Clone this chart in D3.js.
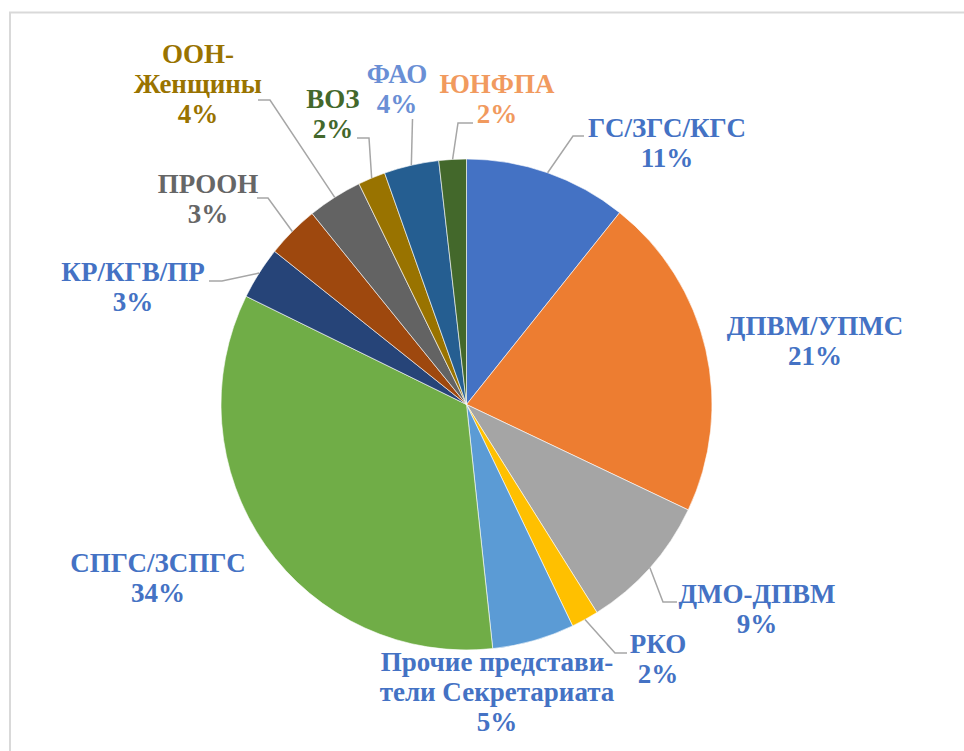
<!DOCTYPE html>
<html lang="ru">
<head>
<meta charset="utf-8">
<script src="https://cdn.jsdelivr.net/npm/d3@7"></script>
</head>
<body style="margin:0;padding:0;background:#ffffff;">
<svg id="chart" width="964" height="751" style="display:block;"></svg>
<script>
// ---- data ----
const categories = ["ГС/ЗГС/КГС", "ДПВМ/УПМС", "ДМО-ДПВМ", "РКО", "Прочие представители Секретариата",
  "СПГС/ЗСПГС", "КР/КГВ/ПР", "ПРООН", "ООН-Женщины", "ВОЗ", "ФАО", "ЮНФПА"];
const values = [10.7, 21.3, 9.0, 1.8, 5.4, 33.9, 3.45, 3.45, 3.6, 1.8, 3.6, 1.8];
const labelLines = [["ГС/ЗГС/КГС"], ["ДПВМ/УПМС"], ["ДМО-ДПВМ"], ["РКО"], ["Прочие представи-", "тели Секретариата"],
  ["СПГС/ЗСПГС"], ["КР/КГВ/ПР"], ["ПРООН"], ["ООН-", "Женщины"], ["ВОЗ"], ["ФАО"], ["ЮНФПА"]];

// ---- styles ----
const sliceColors = ["#4472C4", "#ED7D31", "#A5A5A5", "#FFC000", "#5B9BD5", "#70AD47",
  "#264478", "#9E480E", "#636363", "#997300", "#255E91", "#43682B"];
const labelColors = ["#4472C4", "#4472C4", "#4472C4", "#4472C4", "#4472C4", "#4472C4",
  "#4472C4", "#666666", "#997300", "#43682B", "#6A8FD5", "#F19A5E"];

// ---- layout (label anchors: center x, first baseline y; leader elbow and end) ----
const labelLayout = [
  { x: 667, y: 137, elbow: [573, 136], end: 584 },
  { x: 815, y: 335, elbow: null, end: null },
  { x: 757, y: 603, elbow: [663, 602], end: 677 },
  { x: 658, y: 653, elbow: [615, 653], end: 627 },
  { x: 497, y: 671, elbow: null, end: null },
  { x: 158, y: 572, elbow: null, end: null },
  { x: 133, y: 281, elbow: [222, 281], end: 209 },
  { x: 208, y: 193, elbow: [268, 198], end: 257 },
  { x: 198, y: 63, elbow: [270, 100], end: 258 },
  { x: 333, y: 108, elbow: [369, 138], end: 357 },
  { x: 397, y: 83, elbow: [412.5, 119], end: null },
  { x: 497, y: 93, elbow: [458, 123], end: 473 }
];

const cx = 466.5, cy = 404.5, R = 245.5;
const lineH = 30;

const svg = d3.select("#chart");

// chart border (clipped at right/bottom)
svg.append("rect")
  .attr("x", 10).attr("y", 12.5)
  .attr("width", 1000).attr("height", 800)
  .attr("fill", "none").attr("stroke", "#d9d9d9").attr("stroke-width", 2);

const total = d3.sum(values);
const pie = d3.pie().sort(null).value(d => d)(values);
const arc = d3.arc().innerRadius(0).outerRadius(R);

const g = svg.append("g").attr("transform", `translate(${cx},${cy})`);
g.selectAll("path.slice")
  .data(pie)
  .join("path")
  .attr("class", "slice")
  .attr("d", arc)
  .attr("fill", (d, i) => sliceColors[i])
  .attr("stroke", "#ffffff")
  .attr("stroke-width", 0.6);

// leader lines
pie.forEach((d, i) => {
  const L = labelLayout[i];
  if (!L.elbow) return;
  const mid = (d.startAngle + d.endAngle) / 2;
  const sx = cx + R * Math.sin(mid), sy = cy - R * Math.cos(mid);
  const pts = [[sx, sy], L.elbow];
  if (L.end !== null) pts.push([L.end, L.elbow[1]]);
  svg.append("path")
    .attr("d", d3.line()(pts))
    .attr("fill", "none")
    .attr("stroke", "#A6A6A6")
    .attr("stroke-width", 1.5);
});

// labels: one text element per line
pie.forEach((d, i) => {
  const L = labelLayout[i];
  const pct = Math.round(d.data / total * 100) + "%";
  const lines = labelLines[i].concat([pct]);
  lines.forEach((s, k) => {
    svg.append("text")
      .attr("x", L.x).attr("y", L.y + k * lineH)
      .attr("text-anchor", "middle")
      .attr("fill", labelColors[i])
      .style("font-family", "\"Times New Roman\", \"Liberation Serif\", Tinos, FreeSerif, \"DejaVu Serif\"")
      .style("font-weight", "bold")
      .style("font-size", "27px")
      .text(s);
  });
});
</script>
</body>
</html>
